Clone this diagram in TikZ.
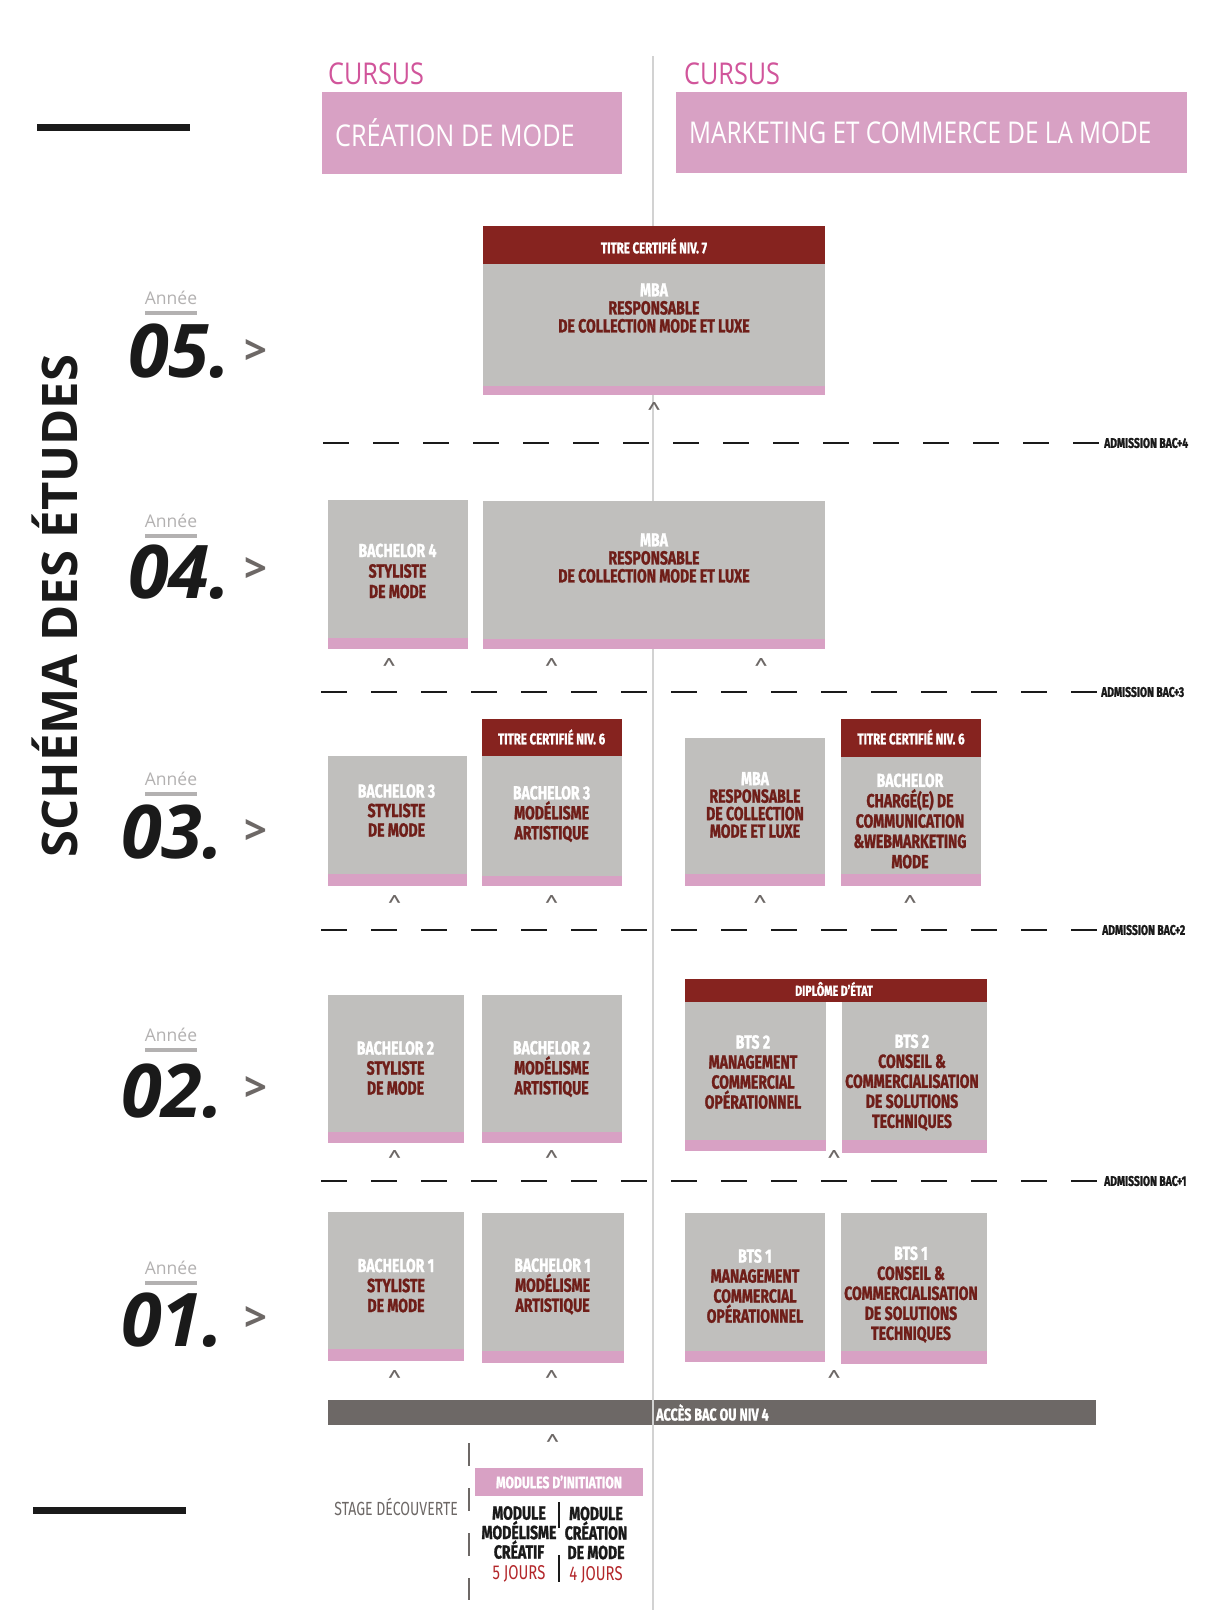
\documentclass[tikz,border=0pt]{standalone}
\usepackage{fontspec}
\setmainfont{Fira Sans}
\newfontfamily\cf[FakeStretch=0.74, BoldFeatures={FakeBold=1.3}]{Fira Sans}
\newfontfamily\hf[FakeStretch=0.84]{Open Sans}
\newfontfamily\osf{Open Sans}
\definecolor{boxgray}{HTML}{C0BFBD}
\definecolor{stripe}{HTML}{D8A1C4}
\definecolor{hdrred}{HTML}{86231F}
\definecolor{txtred}{HTML}{6F1E19}
\definecolor{bargray}{HTML}{6D6866}
\definecolor{cursuspink}{HTML}{D1559B}
\definecolor{anneegray}{HTML}{B3B1B1}
\definecolor{clinegray}{HTML}{D2D2D2}
\definecolor{jourred}{HTML}{B3262A}
\definecolor{inkblack}{HTML}{1A1A1A}
\tikzset{
  boxtxt/.style={font=\cf\bfseries\fontsize{19}{20}\selectfont, text=txtred, align=center, inner sep=0pt},
  hdrtxt/.style={font=\cf\bfseries\fontsize{15.5}{18}\selectfont, text=white, inner sep=0pt},
  caretmark/.style={font=\fontsize{25}{25}\selectfont, text=bargray, inner sep=0pt},
  admis/.style={font=\cf\bfseries\fontsize{14}{15}\selectfont, text=inkblack, anchor=west, inner sep=0pt},
  dashline/.style={line width=1.3pt, dash pattern=on 25.6pt off 24.4pt, draw=inkblack},
  yearnum/.style={font=\osf\bfseries\itshape\fontsize{74}{74}\selectfont, text=inkblack, anchor=west, inner sep=0pt},
  anneetxt/.style={font=\osf\fontsize{17.5}{17.5}\selectfont, text=anneegray, inner sep=0pt},
  chev/.style={font=\osf\bfseries\fontsize{40}{40}\selectfont, text=bargray, inner sep=0pt},
  modtxt/.style={font=\cf\bfseries\fontsize{19}{19.5}\selectfont, text=inkblack, align=center, inner sep=0pt},
  hdrfont/.style={font=\hf\fontsize{30}{30}\selectfont, anchor=west, inner sep=0pt},
}
\newcommand\progbox[6]{%
  \fill[boxgray] (#2,#3) rectangle (#4,#6);
  \fill[stripe] (#2,#6) rectangle (#4,#5);
  \coordinate (#1) at ({(#2+#4)/2},#3);
}
\newcommand\yearrow[7]{% name, xnum, yannee, ynum, text, ychev
  \node[anneetxt] (#1a) at (171,#3) {Année};
  \fill[anneegray] (145,#3+13) rectangle (197,#3+16.5);
  \node[yearnum] (#1n) at (#2,#4) {#5};
  \node[chev] (#1c) at (256,#6) {>};
}
\begin{document}
\begin{tikzpicture}[x=1pt,y=-1pt]
\useasboundingbox (0,0) rectangle (1210,1610);
\fill[white] (0,0) rectangle (1210,1610);

% central divider
\draw[clinegray, line width=1.5pt] (653,56) coordinate (ctop) -- (653,1610) coordinate (cbot);

% left decorations
\fill[inkblack] (37,124) rectangle (190,131);
\fill[inkblack] (33,1507) rectangle (186,1514);
\node[rotate=90, font=\osf\bfseries\fontsize{49}{49}\selectfont, text=inkblack, inner sep=0pt] (title) at (55,606) {SCHÉMA DES ÉTUDES};

% headers
\node[hdrfont, text=cursuspink] (cur1) at (328,74) {CURSUS};
\node[hdrfont, text=cursuspink] (cur2) at (684,74) {CURSUS};
\fill[stripe] (322,92) rectangle (622,174);
\fill[stripe] (676,92) rectangle (1187,173);
\node[hdrfont, text=white] (crea) at (335,133) {CRÉATION DE MODE};
\node[hdrfont, text=white, font=\hf\fontsize{30}{30}\selectfont] (mark) at (689,133) {\scalebox{0.965}[1]{MARKETING ET COMMERCE DE LA MODE}};

% year labels
\yearrow{y5}{128}{298}{351}{05.}{352}{}
\yearrow{y4}{128}{521}{572}{04.}{570}{}
\yearrow{y3}{121}{779}{832}{03.}{832}{}
\yearrow{y2}{121}{1035}{1091}{02.}{1089}{}
\yearrow{y1}{121}{1268}{1320}{01.}{1319}{}

% admission lines
\draw[dashline] (323,443) coordinate (d4a) -- (1100,443) coordinate (d4b);
\node[admis] (adm4) at (1104,443) {ADMISSION BAC+4};
\draw[dashline] (321,692) coordinate (d3a) -- (1098,692) coordinate (d3b);
\node[admis] (adm3) at (1101,692) {ADMISSION BAC+3};
\draw[dashline] (321,930) coordinate (d2a) -- (1098,930) coordinate (d2b);
\node[admis] (adm2) at (1102,930) {ADMISSION BAC+2};
\draw[dashline] (321,1181) coordinate (d1a) -- (1098,1181) coordinate (d1b);
\node[admis] (adm1) at (1104,1181) {ADMISSION BAC+1};

% ---- year 5
\fill[hdrred] (483,226) rectangle (825,264);
\progbox{b5}{483}{264}{825}{394.5}{386}
\node[hdrtxt] (h5) at (654,246) {TITRE CERTIFIÉ NIV. 7};
\node[boxtxt, font=\cf\bfseries\fontsize{19}{18}\selectfont] (t5) at (654,308) {{\color{white}MBA}\\RESPONSABLE\\DE COLLECTION MODE ET LUXE};
\node[caretmark] (c5) at (654,413) {\textasciicircum};

% ---- year 4
\progbox{b4a}{328}{500}{468}{649}{638}
\node[boxtxt, font=\cf\bfseries\fontsize{19}{20.5}\selectfont] (t4a) at (397.5,571) {{\color{white}BACHELOR 4}\\STYLISTE\\DE MODE};
\progbox{b4b}{483}{501}{825}{649}{639}
\node[boxtxt, font=\cf\bfseries\fontsize{19}{18}\selectfont] (t4b) at (654,558) {{\color{white}MBA}\\RESPONSABLE\\DE COLLECTION MODE ET LUXE};
\node[caretmark] (c4a) at (389,669) {\textasciicircum};
\node[caretmark] (c4b) at (551.6,669) {\textasciicircum};
\node[caretmark] (c4c) at (761,669) {\textasciicircum};

% ---- year 3
\progbox{b3a}{328}{756}{467}{885.5}{874}
\node[boxtxt, font=\cf\bfseries\fontsize{19}{19.5}\selectfont] (t3a) at (396.5,810.5) {{\color{white}BACHELOR 3}\\STYLISTE\\DE MODE};
\fill[hdrred] (482,719) rectangle (621.5,756);
\progbox{b3b}{482}{756}{621.5}{885.5}{876}
\node[hdrtxt] (h3b) at (551.6,737) {TITRE CERTIFIÉ NIV. 6};
\node[boxtxt] (t3b) at (551.6,814) {{\color{white}BACHELOR 3}\\MODÉLISME\\ARTISTIQUE};
\progbox{b3c}{685}{737.5}{825}{885.5}{874}
\node[boxtxt, font=\cf\bfseries\fontsize{19}{17.5}\selectfont] (t3c) at (755,805) {{\color{white}MBA}\\RESPONSABLE\\DE COLLECTION\\MODE ET LUXE};
\fill[hdrred] (841,719) rectangle (981,757);
\progbox{b3d}{841}{757}{981}{885.5}{874}
\node[hdrtxt] (h3d) at (911,737) {TITRE CERTIFIÉ NIV. 6};
\node[boxtxt, font=\cf\bfseries\fontsize{19}{20.3}\selectfont] (t3d) at (910,821) {{\color{white}BACHELOR}\\CHARGÉ(E) DE\\COMMUNICATION\\\&WEBMARKETING\\MODE};
\node[caretmark] (c3a) at (394.5,906) {\textasciicircum};
\node[caretmark] (c3b) at (551.6,906) {\textasciicircum};
\node[caretmark] (c3c) at (760,906) {\textasciicircum};
\node[caretmark] (c3d) at (910,906) {\textasciicircum};

% ---- year 2
\progbox{b2a}{328}{995}{464.3}{1143}{1132}
\node[boxtxt] (t2a) at (395.5,1068) {{\color{white}BACHELOR 2}\\STYLISTE\\DE MODE};
\progbox{b2b}{482}{995}{621.5}{1143}{1132}
\node[boxtxt] (t2b) at (551.6,1069) {{\color{white}BACHELOR 2}\\MODÉLISME\\ARTISTIQUE};
\fill[hdrred] (685,979) rectangle (987,1002);
\node[hdrtxt, font=\cf\bfseries\fontsize{14.5}{16}\selectfont] (h2) at (834,989) {DIPLÔME D’ÉTAT};
\progbox{b2c}{685}{1002}{826}{1151}{1140}
\node[boxtxt] (t2c) at (753,1072) {{\color{white}BTS 2}\\MANAGEMENT\\COMMERCIAL\\OPÉRATIONNEL};
\progbox{b2d}{842}{1002}{987}{1153}{1140}
\node[boxtxt] (t2d) at (912,1082.5) {{\color{white}BTS 2}\\CONSEIL \&\\COMMERCIALISATION\\DE SOLUTIONS\\TECHNIQUES};
\node[caretmark] (c2a) at (394.5,1161) {\textasciicircum};
\node[caretmark] (c2b) at (551.6,1161) {\textasciicircum};
\node[caretmark] (c2c) at (834,1161) {\textasciicircum};

% ---- year 1
\progbox{b1a}{328}{1212}{464.3}{1361}{1349}
\node[boxtxt] (t1a) at (396,1285.5) {{\color{white}BACHELOR 1}\\STYLISTE\\DE MODE};
\progbox{b1b}{482}{1213}{623.5}{1362.7}{1351}
\node[boxtxt] (t1b) at (552.6,1286.4) {{\color{white}BACHELOR 1}\\MODÉLISME\\ARTISTIQUE};
\progbox{b1c}{685}{1213}{825}{1362}{1351}
\node[boxtxt] (t1c) at (755,1286) {{\color{white}BTS 1}\\MANAGEMENT\\COMMERCIAL\\OPÉRATIONNEL};
\progbox{b1d}{841}{1213}{987}{1364}{1351}
\node[boxtxt] (t1d) at (911,1294.5) {{\color{white}BTS 1}\\CONSEIL \&\\COMMERCIALISATION\\DE SOLUTIONS\\TECHNIQUES};
\node[caretmark] (c1a) at (394.5,1381) {\textasciicircum};
\node[caretmark] (c1b) at (551.6,1381) {\textasciicircum};
\node[caretmark] (c1c) at (834,1381) {\textasciicircum};

% ---- access bar
\fill[bargray] (328,1400) rectangle (1096,1425);
\draw[clinegray, line width=1.5pt] (653,1395) -- (653,1430);
\node[font=\cf\bfseries\fontsize{17}{17}\selectfont, text=white, anchor=west, inner sep=0pt] (acces) at (656,1412.5) {ACCÈS BAC OU NIV 4};
\node[caretmark] (c0) at (552.7,1445) {\textasciicircum};

% ---- bottom modules
\draw[bargray, line width=1.5pt, dash pattern=on 23pt off 22pt] (469,1443) coordinate (vs1) -- (469,1600) coordinate (vs2);
\node[font=\cf\fontsize{19}{19}\selectfont, text=bargray, anchor=east, inner sep=0pt] (stage) at (458,1507) {STAGE DÉCOUVERTE};
\fill[stripe] (475,1468) rectangle (643,1496);
\node[hdrtxt, font=\cf\bfseries\fontsize{16.5}{18}\selectfont] (modi) at (559,1482) {MODULES D’INITIATION};
\draw[inkblack, line width=1.3pt] (559,1502) coordinate (dv1) -- (559,1528) coordinate (dv2);
\draw[inkblack, line width=1.3pt] (559,1555) coordinate (dv3) -- (559,1582) coordinate (dv4);
\node[modtxt] (m1) at (519,1532.5) {MODULE\\MODÉLISME\\CRÉATIF};
\node[font=\cf\fontsize{20}{20}\selectfont, text=jourred, inner sep=0pt] (j1) at (519,1574) {5 JOURS};
\node[modtxt] (m2) at (596,1533) {MODULE\\CRÉATION\\DE MODE};
\node[font=\cf\fontsize{20}{20}\selectfont, text=jourred, inner sep=0pt] (j2) at (596,1575) {4 JOURS};
\end{tikzpicture}
\end{document}
